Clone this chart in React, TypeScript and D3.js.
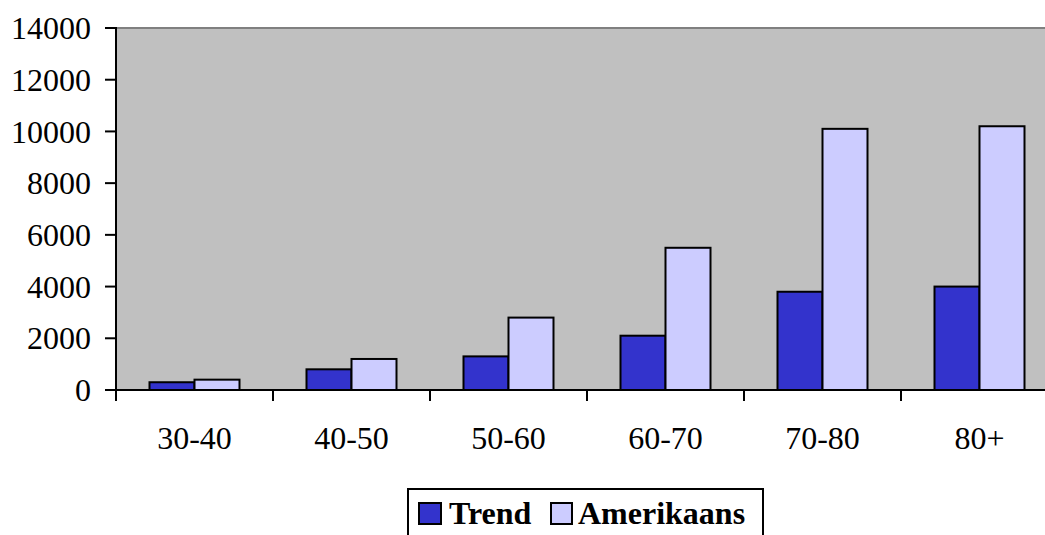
import React from "react";
import * as d3 from "d3";

const categories = ["30-40", "40-50", "50-60", "60-70", "70-80", "80+"];
const seriesNames = ["Trend", "Amerikaans"];
const trendValues = [300, 800, 1300, 2100, 3800, 4000];
const amerikaansValues = [400, 1200, 2800, 5500, 10100, 10200];
const yTicks = [0, 2000, 4000, 6000, 8000, 10000, 12000, 14000];

const colors: Record<string, string> = { Trend: "#3333CC", Amerikaans: "#CCCCFF" };

const W = 1045;
const H = 535;
const plotLeft = 116;
const plotRight = 1058;
const plotTop = 28;
const plotBottom = 390;
const font = "'Liberation Serif', 'Times New Roman', serif";
const fontSize = 32;

export default function App() {
  const x0 = d3.scaleBand<string>().domain(categories).range([plotLeft, plotRight]).padding(0);
  const step = x0.bandwidth();
  const x1 = d3.scaleBand<string>().domain(seriesNames).range([33.5, step - 33.5]).padding(0);
  const y = d3.scaleLinear().domain([0, 14000]).range([plotBottom, plotTop]);

  const valuesBySeries: Record<string, number[]> = {
    Trend: trendValues,
    Amerikaans: amerikaansValues,
  };

  return (
    <svg
      width={W}
      height={H}
      style={{ position: "absolute", left: 0, top: 0, display: "block" }}
    >
      <rect x={0} y={0} width={W} height={H} fill="#ffffff" />
      {/* plot area */}
      <rect x={plotLeft} y={plotTop} width={plotRight - plotLeft} height={plotBottom - plotTop} fill="#C0C0C0" />
      <line x1={plotLeft} x2={plotRight} y1={plotTop} y2={plotTop} stroke="#808080" strokeWidth={2} />

      {/* bars */}
      {categories.map((c, i) => (
        <g key={c} transform={`translate(${x0(c)},0)`}>
          {seriesNames.map((s) => {
            const v = valuesBySeries[s][i];
            return (
              <rect
                key={s}
                x={x1(s)}
                y={y(v)}
                width={x1.bandwidth()}
                height={plotBottom - y(v)}
                fill={colors[s]}
                stroke="#000"
                strokeWidth={2}
              />
            );
          })}
        </g>
      ))}

      {/* y axis */}
      <line x1={plotLeft} x2={plotLeft} y1={plotTop - 1} y2={plotBottom + 11} stroke="#000" strokeWidth={2} />
      {yTicks.map((t) => (
        <g key={t}>
          <line x1={plotLeft - 11} x2={plotLeft} y1={y(t)} y2={y(t)} stroke="#000" strokeWidth={2} />
          <text
            x={91}
            y={y(t)}
            dy="0.35em"
            textAnchor="end"
            fontFamily={font}
            fontSize={fontSize}
            fill="#000"
          >
            {t}
          </text>
        </g>
      ))}

      {/* x axis */}
      <line x1={plotLeft} x2={plotRight} y1={plotBottom} y2={plotBottom} stroke="#000" strokeWidth={2} />
      {categories.map((c) => (
        <g key={c}>
          <line
            x1={(x0(c) ?? 0) + step}
            x2={(x0(c) ?? 0) + step}
            y1={plotBottom}
            y2={plotBottom + 11}
            stroke="#000"
            strokeWidth={2}
          />
          <text
            x={(x0(c) ?? 0) + step / 2}
            y={449}
            textAnchor="middle"
            fontFamily={font}
            fontSize={fontSize}
            fill="#000"
          >
            {c}
          </text>
        </g>
      ))}

      {/* legend */}
      <rect x={408} y={489} width={355} height={60} fill="#ffffff" stroke="#000" strokeWidth={2} />
      <rect x={419} y={503} width={22} height={21} fill={colors.Trend} stroke="#000" strokeWidth={2} />
      <text x={449} y={524} fontFamily={font} fontSize={fontSize} fontWeight="bold" fill="#000">
        Trend
      </text>
      <rect x={551} y={503} width={21} height={21} fill={colors.Amerikaans} stroke="#000" strokeWidth={2} />
      <text x={578} y={524} fontFamily={font} fontSize={fontSize} fontWeight="bold" fill="#000">
        Amerikaans
      </text>
    </svg>
  );
}
